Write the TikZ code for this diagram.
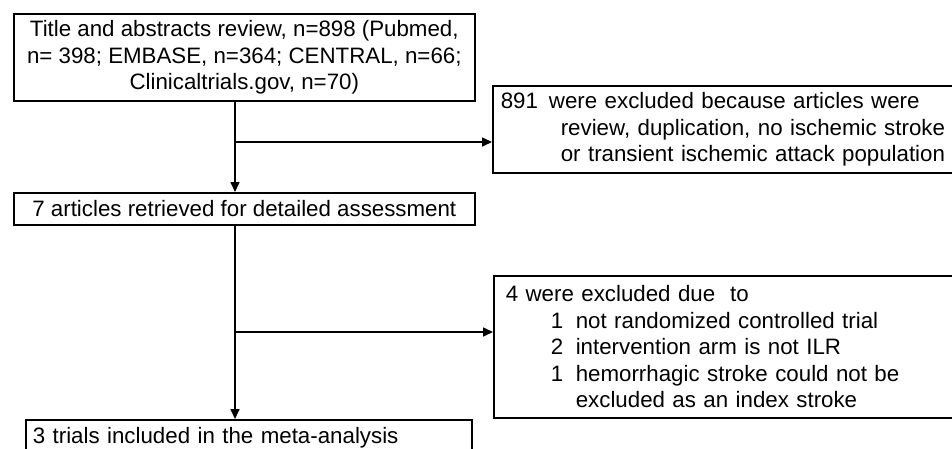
\documentclass[tikz,border=0pt]{standalone}
\usepackage{fontspec}
\setmainfont{Liberation Sans}
\usetikzlibrary{arrows.meta}
\tikzset{
  flowbox/.style={
    draw, rectangle, line width=1.6pt, inner sep=0pt,
    anchor=north west,
    font=\fontsize{22.3}{26.5}\selectfont
  },
  flowarrow/.style={
    line width=1.6pt,
    -{Triangle[length=10pt,width=9pt]}
  }
}
\begin{document}
\begin{tikzpicture}[x=1pt,y=-1pt]
\clip (0,0) rectangle (952,448);
\node[flowbox, minimum width=461, minimum height=87, align=center] (search) at (13,13)
  {Title and abstracts review, n=898 (Pubmed,\\
   n= 398; EMBASE, n=364; CENTRAL, n=66;\\
   Clinicaltrials.gov, n=70)};
\node[flowbox, minimum width=470, minimum height=87, text width=454, inner xsep=8pt, align=left] (excl1) at (492,85)
  {891\hspace{11pt}were excluded because articles were\\
   \hspace*{60pt}review, duplication, no ischemic stroke\\
   \hspace*{60pt}or transient ischemic attack population};
\node[flowbox, minimum width=461, minimum height=32] (screen) at (13,192)
  {7 articles retrieved for detailed assessment};
\node[flowbox, minimum width=470, minimum height=142, text width=458, inner xsep=12pt, align=left] (excl2) at (493,275)
  {4 were excluded due\ \ to\\
   \hspace*{45pt}\makebox[25pt][l]{1}not randomized controlled trial\\
   \hspace*{45pt}\makebox[25pt][l]{2}intervention arm is not ILR\\
   \hspace*{45pt}\makebox[25pt][l]{1}hemorrhagic stroke could not be\\
   \hspace*{70pt}excluded as an index stroke};
\node[flowbox, minimum width=446, minimum height=36, text width=432, inner xsep=7pt, align=left] (incl) at (25,419)
  {3 trials included in the meta-analysis};
% main line and the two side branches
\coordinate (trunk) at (235,0);
\coordinate (fork1) at (235,142);
\coordinate (fork2) at (235,332);
\draw[flowarrow] (search.south -| trunk) -- (screen.north -| trunk);
\draw[flowarrow] (screen.south -| trunk) -- (incl.north -| trunk);
\draw[flowarrow] (fork1) -- (fork1 -| excl1.west);
\draw[flowarrow] (fork2) -- (fork2 -| excl2.west);
\end{tikzpicture}
\end{document}
